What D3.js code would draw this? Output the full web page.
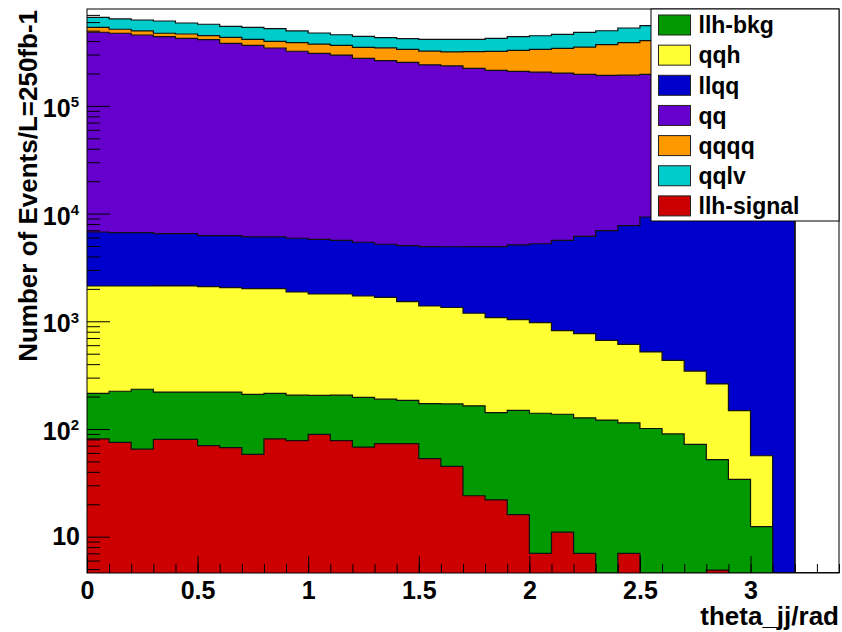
<!DOCTYPE html>
<html>
<head>
<meta charset="utf-8">
<script src="https://d3js.org/d3.v7.min.js"></script>
<style>
    body { margin: 0; background: #fff; }
    text { font-family: "Liberation Sans", Arial, sans-serif; font-weight: bold; fill: #000; }
</style>
</head>
<body>
<div id="chart-area"></div>
<script>
// theta_jj histograms, bins of 0.1 rad starting at 0 (events / 250 fb-1)
var binWidth = 0.1;
var llhSignal = [81, 75, 65, 80, 80, 70, 67, 58, 81, 78, 89, 78, 68, 73, 73, 53,
    45, 24, 22, 16, 7, 11, 7, 0, 7, 0, 0, 0, 4.9, 0, 0, 0];
var llhBkg = [133, 149, 169, 140, 140, 150, 153, 152, 133, 128, 116, 128, 129, 116, 111, 119,
    126, 140, 120, 133, 133, 126, 120, 121, 107, 101, 90, 72, 47, 34, 12.4, 0];
var qqh = [1913, 1903, 1893, 1908, 1908, 1877, 1832, 1798, 1794, 1665, 1587, 1587, 1520, 1482, 1338, 1215,
    1172, 1024, 938, 886, 831, 681, 640, 545, 497, 418, 344, 273, 210, 114, 44, 0];
var llqq = [4620, 4520, 4520, 4380, 4380, 4140, 4180, 4060, 4060, 4030, 3980, 3860, 3700, 3520, 3510, 3540,
    3580, 3740, 3850, 4080, 4280, 4830, 5390, 6270, 7110, 8780, 10800, 13600, 17800, 24200, 32800, 43400];
var qq = [476000, 466000, 449000, 433000, 418000, 406000, 375000, 359000, 339000, 316000, 302000, 291000, 271000, 258000, 249000, 236000,
    230000, 218000, 209000, 204000, 201000, 196000, 190000, 185000, 185000, 187000, 190000, 193000, 196000, 198000, 200000, 0];
var qqqq = [54400, 42100, 40700, 33100, 40800, 36600, 52100, 50000, 53100, 64900, 67600, 68500, 73300, 82100, 81400, 82200,
    81900, 96600, 107000, 119000, 129000, 140000, 156000, 178000, 194000, 207000, 220000, 235000, 250000, 265000, 280000, 0];
var qqlv = [128000, 127000, 131000, 142000, 123000, 124000, 115000, 121000, 123000, 110000, 99800, 92900, 93000, 85100, 85400, 91900,
    98800, 95400, 103000, 111000, 113000, 120000, 130000, 129000, 142000, 152000, 160000, 170000, 180000, 190000, 200000, 0];

// stacking order (bottom first), legend order and colours
var stackOrder = ["llh-signal", "llh-bkg", "qqh", "llqq", "qq", "qqqq", "qqlv"];
var legendOrder = ["llh-bkg", "qqh", "llqq", "qq", "qqqq", "qqlv", "llh-signal"];
var colors = {
    "llh-signal": "#cc0000", "llh-bkg": "#009900", "qqh": "#ffff33", "llqq": "#0000cc",
    "qq": "#6600cc", "qqqq": "#ff9900", "qqlv": "#00cccc"
};
var seriesValues = {
    "llh-signal": llhSignal, "llh-bkg": llhBkg, "qqh": qqh, "llqq": llqq,
    "qq": qq, "qqqq": qqqq, "qqlv": qqlv
};

var xTicks = [0, 0.5, 1, 1.5, 2, 2.5, 3];
var yDecades = [10, 100, 1000, 10000, 100000];

function histChart(){
    var W = 842, H = 632;
    var margin = { left: 87, right: 3, top: 9, bottom: 59 };
    var width = W - margin.left - margin.right,
        height = H - margin.top - margin.bottom;
    var xMax = 3.4, yMin = 4.6, yMax = 7.94e5;

    var svg = d3.select("#chart-area")
        .append("svg")
            .attr("width", W)
            .attr("height", H);

    var g = svg.append("g")
        .attr("transform", "translate(" + margin.left + "," + margin.top + ")");

    var x = d3.scaleLinear().domain([0, xMax]).range([0, width]);
    var y = d3.scaleLog().domain([yMin, yMax]).range([height, 0]);

    g.append("clipPath").attr("id", "plot-clip")
        .append("rect").attr("width", width).attr("height", height);

    // table of bins
    var nBins = Math.round(xMax / binWidth);
    var table = d3.range(nBins).map(function(i){
        var row = { x0: i * binWidth };
        stackOrder.forEach(function(k){ row[k] = seriesValues[k][i] || 0; });
        return row;
    });
    var stacked = d3.stack().keys(stackOrder)(table);

    function clampY(v){ return y(Math.max(v, yMin)); }

    // each cumulative histogram drawn from the axis, top one first
    var layers = stacked.map(function(s){
        var pts = s.map(function(d){ return { x: d.data.x0, v: d[1] }; });
        pts.push({ x: xMax, v: 0 });
        return { key: s.key, pts: pts };
    }).reverse();

    var area = d3.area()
        .curve(d3.curveStepAfter)
        .x(function(d){ return x(d.x); })
        .y0(height)
        .y1(function(d){ return clampY(d.v); });
    var line = d3.line()
        .curve(d3.curveStepAfter)
        .x(function(d){ return x(d.x); })
        .y(function(d){ return clampY(d.v); });

    var hist = g.append("g").attr("clip-path", "url(#plot-clip)");
    layers.forEach(function(l){
        hist.append("path")
            .attr("d", area(l.pts))
            .attr("fill", colors[l.key]);
        hist.append("path")
            .attr("d", line(l.pts))
            .attr("fill", "none")
            .attr("stroke", "#111")
            .attr("stroke-width", 1.2);
    });

    // X axis: major and minor ticks pointing inward
    var xMinor = d3.range(nBins + 1).map(function(i){ return i * binWidth; });
    var xMinorG = g.append("g").attr("transform", "translate(0," + height + ")")
        .call(d3.axisBottom(x).tickValues(xMinor).tickSize(-9).tickFormat(""));
    xMinorG.select(".domain").remove();
    var xAxisG = g.append("g").attr("transform", "translate(0," + height + ")")
        .call(d3.axisBottom(x).tickValues(xTicks).tickSize(-17).tickPadding(8)
            .tickFormat(function(d){ return d; }));
    xAxisG.select(".domain").remove();
    xAxisG.selectAll("text").attr("font-size", "25px")
        .style("font-family", "'Liberation Sans', Arial, sans-serif").style("font-weight", "bold");

    // Y axis (log): decades and minor ticks
    var yMinor = [];
    for (var e = 0; e <= 5; e++){
        for (var k = 2; k <= 9; k++){
            var v = k * Math.pow(10, e);
            if (v >= yMin && v <= yMax) yMinor.push(v);
        }
    }
    var yMinorG = g.append("g")
        .call(d3.axisLeft(y).tickValues(yMinor).tickSize(-13).tickFormat(""));
    yMinorG.select(".domain").remove();
    var yAxisG = g.append("g")
        .call(d3.axisLeft(y).tickValues(yDecades).tickSize(-23).tickFormat(""));
    yAxisG.select(".domain").remove();
    g.selectAll(".tick line").attr("stroke", "#000");

    yDecades.forEach(function(d){
        var p = Math.round(Math.log10(d));
        if (p === 1){
            g.append("text")
                .attr("x", -7).attr("y", y(d) + 8.5)
                .attr("text-anchor", "end")
                .attr("font-size", "25px")
                .text("10");
        } else {
            var t = g.append("text")
                .attr("x", -8).attr("y", y(d) + 11)
                .attr("text-anchor", "end")
                .attr("font-size", "25px");
            t.append("tspan").text("10");
            t.append("tspan").attr("dy", -9.5).attr("font-size", "15px").text(p);
        }
    });

    // frame
    g.append("rect")
        .attr("width", width).attr("height", height)
        .attr("fill", "none").attr("stroke", "#000").attr("stroke-width", 1);

    // axis titles
    svg.append("text")
        .attr("x", W - 3).attr("y", 625)
        .attr("text-anchor", "end")
        .attr("font-size", "26px")
        .text("theta_jj/rad");
    svg.append("text")
        .attr("transform", "translate(37,10) rotate(-90)")
        .attr("text-anchor", "end")
        .attr("font-size", "26px")
        .text("Number of Events/L=250fb-1");

    // legend
    var lx = 651, ly = margin.top, lw = W - margin.right - lx, lh = 212;
    var leg = svg.append("g");
    leg.append("rect")
        .attr("x", lx).attr("y", ly).attr("width", lw).attr("height", lh)
        .attr("fill", "#fff").attr("stroke", "#000").attr("stroke-width", 1);
    legendOrder.forEach(function(k, i){
        var cy = 25 + i * 30.15;
        leg.append("rect")
            .attr("x", 658.5).attr("y", cy - 10).attr("width", 32).attr("height", 20)
            .attr("fill", colors[k]).attr("stroke", "#222").attr("stroke-width", 1);
        leg.append("text")
            .attr("x", 698.5).attr("y", cy + 8.3)
            .attr("font-size", "23px")
            .text(k);
    });
}

histChart();
</script>
</body>
</html>
